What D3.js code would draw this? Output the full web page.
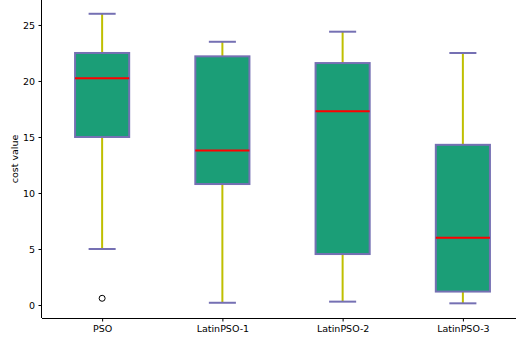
<!DOCTYPE html>
<html>
<head>
<meta charset="utf-8">
<script src="https://cdn.jsdelivr.net/npm/d3@7"></script>
<style>
  html, body { margin: 0; padding: 0; background: #fff; }
  svg { display: block; font-family: "DejaVu Sans", sans-serif; }
</style>
</head>
<body>
<svg id="chart" width="516" height="342"></svg>
<script>
// Five-number summaries per algorithm
const categories = ["PSO", "LatinPSO-1", "LatinPSO-2", "LatinPSO-3"];
const whiskerLow = [5.0, 0.2, 0.3, 0.15];
const q1 = [15.0, 10.8, 4.55, 1.2];
const median = [20.25, 13.8, 17.3, 6.0];
const q3 = [22.5, 22.2, 21.6, 14.3];
const whiskerHigh = [26.0, 23.5, 24.4, 22.5];
const outliers = [[0.6], [], [], []];
const yTicks = [0, 5, 10, 15, 20, 25];

const svg = d3.select("#chart");
const plotLeft = 42, plotBottom = 318, plotTop = 0;

// Positions 1..n, x-range [0.5, n + 0.5]
const x = d3.scaleLinear().domain([0.5, 4.5]).range([plotLeft, plotLeft + 481]);
const y = d3.scaleLinear().domain([-1.16, 27.23]).range([plotBottom, plotTop]);
const boxW = x(1.45) - x(1);
const capW = boxW / 2;

const data = categories.map((c, i) => ({
  name: c, pos: i + 1,
  lo: whiskerLow[i], q1: q1[i], med: median[i], q3: q3[i], hi: whiskerHigh[i],
  out: outliers[i]
}));

const g = svg.append("g");
const boxes = g.selectAll("g.box").data(data).join("g").attr("class", "box");

// whiskers
boxes.append("line")
  .attr("x1", d => x(d.pos)).attr("x2", d => x(d.pos))
  .attr("y1", d => y(d.q1)).attr("y2", d => y(d.lo))
  .attr("stroke", "#bfbf00").attr("stroke-width", 2);
boxes.append("line")
  .attr("x1", d => x(d.pos)).attr("x2", d => x(d.pos))
  .attr("y1", d => y(d.q3)).attr("y2", d => y(d.hi))
  .attr("stroke", "#bfbf00").attr("stroke-width", 2);

// caps
["lo", "hi"].forEach(k => {
  boxes.append("line")
    .attr("x1", d => x(d.pos) - capW / 2)
    .attr("x2", d => x(d.pos) + capW / 2)
    .attr("y1", d => y(d[k])).attr("y2", d => y(d[k]))
    .attr("stroke", "#7570b3").attr("stroke-width", 2);
});

// boxes
boxes.append("rect")
  .attr("x", d => x(d.pos) - boxW / 2)
  .attr("width", boxW)
  .attr("y", d => y(d.q3))
  .attr("height", d => y(d.q1) - y(d.q3))
  .attr("fill", "#1b9e77")
  .attr("stroke", "#7570b3").attr("stroke-width", 2);

// medians
boxes.append("line")
  .attr("x1", d => x(d.pos) - boxW / 2).attr("x2", d => x(d.pos) + boxW / 2)
  .attr("y1", d => y(d.med)).attr("y2", d => y(d.med))
  .attr("stroke", "#ff0000").attr("stroke-width", 2);

// fliers
boxes.selectAll("circle").data(d => d.out.map(v => ({ pos: d.pos, v })))
  .join("circle")
  .attr("cx", d => x(d.pos)).attr("cy", d => y(d.v)).attr("r", 3)
  .attr("fill", "none").attr("stroke", "#000").attr("stroke-width", 1);

// axes
const yAxis = d3.axisLeft(y).tickValues(yTicks).tickSize(3.5).tickPadding(3.5);
const yg = svg.append("g").attr("transform", `translate(${plotLeft},0)`).call(yAxis);
const xAxis = d3.axisBottom(x).tickValues(data.map(d => d.pos))
  .tickFormat((d, i) => categories[i]).tickSize(3.5).tickPadding(3.5);
const xg = svg.append("g").attr("transform", `translate(0,${plotBottom})`).call(xAxis);

[yg, xg].forEach(a => {
  a.select(".domain").attr("stroke", "#000").attr("stroke-width", 1);
  a.selectAll(".tick line").attr("stroke", "#000");
  a.selectAll(".tick text").attr("fill", "#000").style("font-size", "9.5px")
    .style("font-family", "DejaVu Sans");
});
yg.select(".domain").attr("d", `M-0.5,${plotTop}V${plotBottom}`);
xg.select(".domain").attr("d", `M${plotLeft},0.5H516`);

svg.append("text")
  .attr("transform", `translate(18,${(plotTop + plotBottom) / 2}) rotate(-90)`)
  .attr("text-anchor", "middle")
  .style("font-size", "9.5px")
  .text("cost value");
</script>
</body>
</html>
